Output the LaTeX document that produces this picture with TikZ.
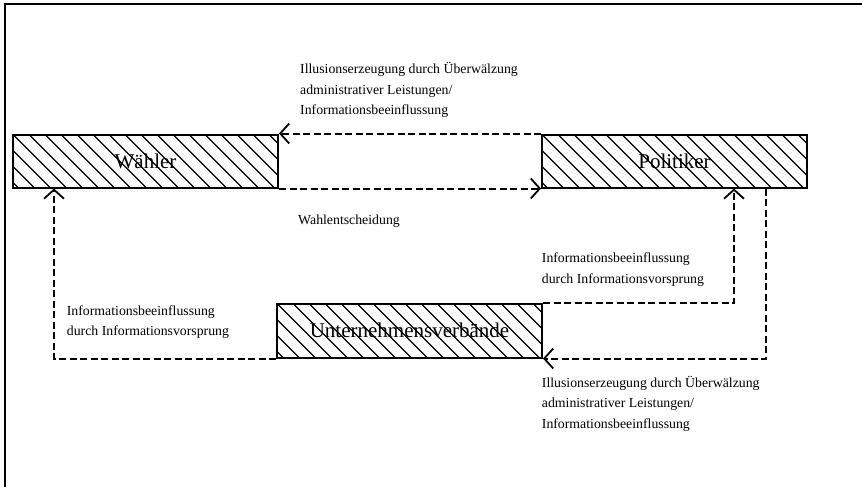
\documentclass[tikz,border=0pt]{standalone}
\usepackage{fontspec}
\setmainfont{Liberation Serif}
\usetikzlibrary{arrows.meta,calc}
\begin{document}
\begin{tikzpicture}[x=1pt,y=-1pt,
  hatchbox/.style={draw, line width=2pt, minimum width=265pt, minimum height=53pt,
    inner sep=0pt, font=\fontsize{21}{24}\selectfont,
    path picture={\foreach \k in {-64,-48,...,290}{
      \draw[line width=1.3pt] ([xshift=\k pt]path picture bounding box.north west) -- ++(64pt,-64pt);}}},
  conn/.style={line width=2pt, dash pattern=on 7pt off 3.5pt,
    -{Straight Barb[length=9pt,width=20pt,line width=1.8pt]}},
  lbl/.style={anchor=west, inner sep=0pt, align=left, font=\fontsize{13.8}{20.5}\selectfont}]
\useasboundingbox (0,0) rectangle (862,487);
\draw[line width=1.6pt] (5,487) -- (5,4) -- (862,4);

\node[hatchbox] (w) at (145.5,161) {Wähler};
\node[hatchbox] (p) at (674.5,161) {Politiker};
\node[hatchbox, minimum height=54pt] (u) at (409.5,330.5) {Unternehmensverbände};

\draw[conn] (p.north west) -- (w.north east);
\draw[conn] (w.south east) -- (p.south west);
\draw[conn] (u.south west) -| ([xshift=42pt]w.south west);
\draw[conn] (u.north east) -| ([xshift=-74pt]p.south east);
\draw[conn] ([xshift=-42pt]p.south east) |- (u.south east);

\node[lbl] (t1) at (300,90) {Illusionserzeugung durch Überwälzung\\administrativer Leistungen/\\Informationsbeeinflussung};
\node[lbl] (t2) at (298,221) {Wahlentscheidung};
\node[lbl] (t3) at (541.7,269.5) {Informationsbeeinflussung\\durch Informationsvorsprung};
\node[lbl] (t4) at (66.7,322) {Informationsbeeinflussung\\durch Informationsvorsprung};
\node[lbl] (t5) at (541.7,403.5) {Illusionserzeugung durch Überwälzung\\administrativer Leistungen/\\Informationsbeeinflussung};
\end{tikzpicture}
\end{document}
